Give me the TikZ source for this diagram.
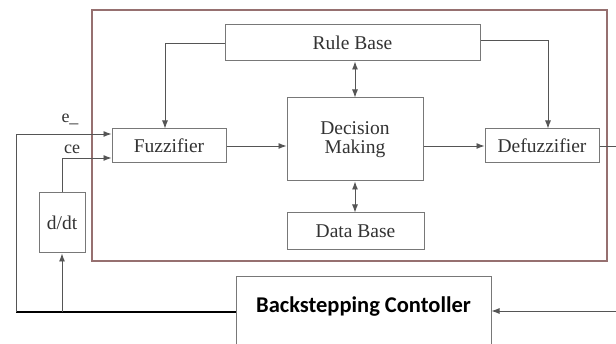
\documentclass[tikz,border=0pt]{standalone}
\usepackage{fontspec}
\setmainfont{Liberation Serif}
\newfontfamily\bsfont{Carlito}
\usetikzlibrary{arrows.meta,calc}
\definecolor{lineg}{RGB}{85,85,85}
\definecolor{boxg}{RGB}{120,120,120}
\definecolor{frame}{RGB}{150,112,112}
\tikzset{
  blk/.style={draw=boxg, line width=1pt, fill=white, inner sep=0pt, font=\fontsize{19.5}{21}\selectfont, text=black!80, align=center},
  conn/.style={draw=lineg, line width=0.9pt},
  arr/.style={conn, -{Latex[length=8pt,width=6pt]}},
  darr/.style={conn, {Latex[length=8pt,width=6pt]}-{Latex[length=8pt,width=6pt]}},
  lbl/.style={font=\fontsize{18}{20}\selectfont, text=black!80, inner sep=0pt}
}
\begin{document}
\begin{tikzpicture}[x=1pt,y=-1pt]
\useasboundingbox (0,0) rectangle (616,344);
\fill[white] (0,0) rectangle (616,344);
% fuzzy controller frame
\draw[frame, line width=1.2pt] (92,10) rectangle (607,261);
% blocks
\node[blk, minimum width=255, minimum height=36] (rb) at (352.5,43) {Rule Base};
\node[blk, minimum width=136, minimum height=83] (dm) at (355,139.5) {Decision\\[-2pt]Making};
\node[blk, minimum width=114, minimum height=34] (fz) at (169,146) {Fuzzifier};
\node[blk, minimum width=114, minimum height=34] (df) at (542,146) {Defuzzifier};
\node[blk, minimum width=137, minimum height=37] (db) at (355.5,231.5) {Data Base};
\node[blk, minimum width=46, minimum height=60] (dt) at (62,223) {d/dt};
\node[blk, anchor=north, minimum width=255, text height=36, text depth=44,
      font=\bsfont\bfseries\fontsize{22.5}{24}\selectfont, text=black] (bc) at (363.5,276) {Backstepping Contoller};
% free ends
\coordinate (cl) at (16,312);
\coordinate (tap) at (62,312);
\coordinate (out) at (616,146);
\coordinate (fbin) at (616,311);
% connectors
\draw[arr] (rb.west) -| ([xshift=-4]fz.north);
\draw[arr] ([yshift=3]rb.east) -| ([xshift=6]df.north);
\draw[darr] (rb.south -| dm.north) -- (dm.north);
\draw[darr] (dm.south) -- (dm.south |- db.north);
\draw[arr] (fz.east) -- (dm.west |- fz.east);
\draw[arr] (dm.east |- df.west) -- (df.west);
\draw[conn] (df.east) -- (out);
\draw[arr] (fbin) -- (bc.east |- fbin);
\draw[black, line width=1.8pt] (bc.west |- cl) -- (cl);
\draw[arr] (cl) |- ([yshift=12]fz.west);
\draw[arr] (tap) -- (dt.south);
\draw[arr] (dt.north) |- ([yshift=-12]fz.west);
% signal labels
\node[lbl] (le) at (70,119) {e\_};
\node[lbl] (lce) at (72,149) {ce};
\end{tikzpicture}
\end{document}
